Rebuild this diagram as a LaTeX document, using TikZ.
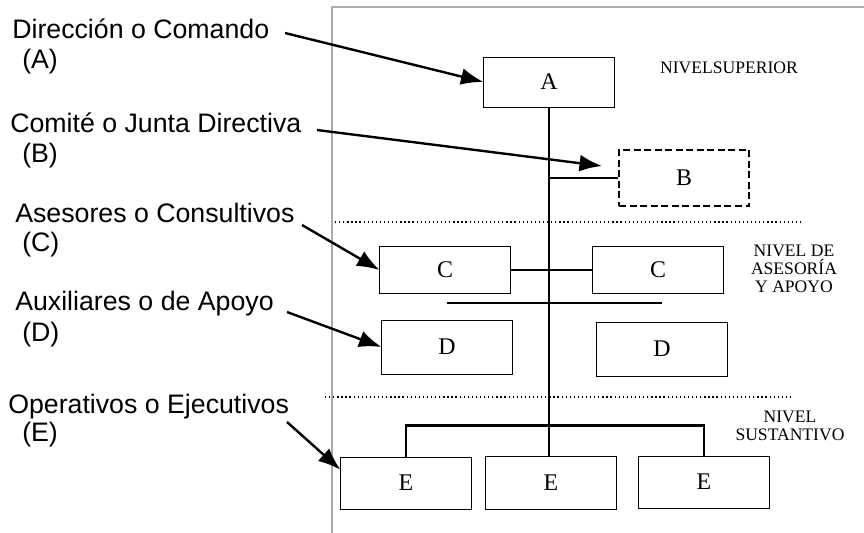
\documentclass[tikz,border=0pt]{standalone}
\usepackage{fontspec}
\setmainfont{Liberation Serif}
\newfontfamily\labelfont{Liberation Sans}
\usetikzlibrary{positioning, calc, arrows.meta}

\begin{document}
\begin{tikzpicture}[x=0.025cm, y=-0.025cm,
            unit/.style={draw, line width=0.7pt, minimum width=3.25cm, minimum height=1.25cm, inner sep=0pt, font=\fontsize{17}{19}\selectfont},
            staff/.style={unit, line width=1.5pt, dash pattern=on 5pt off 2.5pt},
            link/.style={line width=1.2pt},
            pointer/.style={line width=1.7pt, -{Latex[length=16pt, width=12pt]}},
            caption/.style={anchor=base west, inner sep=0pt, font=\labelfont\fontsize{19}{21}\selectfont},
            level/.style={align=center, inner sep=0pt, font=\fontsize{12.5}{13}\selectfont},
            divider/.style={dotted, line width=0.9pt},
            sheet/.style={gray!65, line width=2pt}]
            \useasboundingbox (0,0) rectangle (864,533);
            \draw[sheet] (332,533) -- (332,7) -- (864,7);

            \node[unit] (A) at (549,82) {A};
            \node[staff, minimum height=1.42cm] (B) at (684,178) {B};
            \node[unit, minimum height=1.18cm] (C1) at (445,270) {C};
            \node[unit, minimum height=1.18cm] (C2) at (658,270) {C};
            \node[unit, minimum height=1.35cm] (D1) at (447,347) {D};
            \node[unit, minimum height=1.35cm] (D2) at (662,349) {D};
            \node[unit, minimum height=1.3cm] (E1) at (406,483) {E};
            \node[unit, minimum height=1.33cm] (E2) at (551,483) {E};
            \node[unit, minimum height=1.3cm] (E3) at (704,482) {E};

            \node[level] (lvTop) at (729,68) {NIVELSUPERIOR};
            \node[level] (lvMid) at (794,269) {NIVEL DE\\ASESORÍA\\Y APOYO};
            \node[level] (lvLow) at (790,426) {NIVEL\\SUSTANTIVO};

            \draw[divider] (335,222) -- (800,222);
            \draw[divider] (325,397) -- (793,397);

            \draw[link] (A.south) -- (A.south |- E2.north);
            \draw[link] (B.west) -- (B.west -| A.south);
            \draw[link] (C1.east) -- (C2.west);
            \coordinate (dBar) at ([yshift=0.42cm]D1.north);
            \draw[link, line width=1.5pt] (dBar) -- (dBar -| D2.north);
            \draw[link, line width=1.5pt] (E1.north) -- ++(0,-31) -| (E3.north);

            \node[caption] (lblA) at (12,38) {Dirección o Comando};
            \node[caption] (tagA) at (22,68) {(A)};
            \node[caption] (lblB) at (10,132) {Comité o Junta Directiva};
            \node[caption] (tagB) at (22,162) {(B)};
            \node[caption] (lblC) at (15,222) {Asesores o Consultivos};
            \node[caption] (tagC) at (22,251) {(C)};
            \node[caption] (lblD) at (15,310) {Auxiliares o de Apoyo};
            \node[caption] (tagD) at (22,341) {(D)};
            \node[caption] (lblE) at (8,413) {Operativos o Ejecutivos};
            \node[caption] (tagE) at (22,441) {(E)};

            \coordinate (fromA) at (285,33);
            \coordinate (fromB) at (317,130);
            \coordinate (toB) at (602,166);
            \coordinate (fromC) at (302,225);
            \coordinate (fromD) at (287,312);
            \coordinate (fromE) at (287,422);
            \coordinate (toE) at ($(E1.north west)!0.5!(E1.west)$);
            \draw[pointer] (fromA) -- (A.west);
            \draw[pointer] (fromB) -- (toB);
            \draw[pointer] (fromC) -- (C1.west);
            \draw[pointer] (fromD) -- (D1.west);
            \draw[pointer] (fromE) -- (toE);
        \end{tikzpicture}
\end{document}
